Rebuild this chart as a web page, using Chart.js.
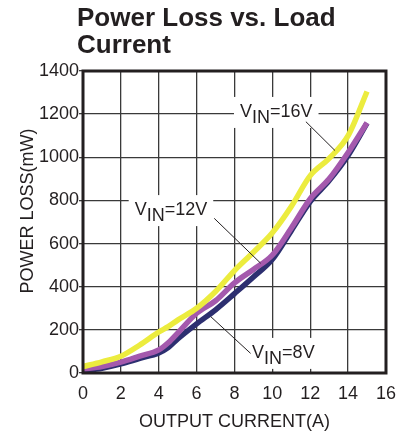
<!DOCTYPE html>
<html>
<head>
<meta charset="utf-8">
<script src="https://cdn.jsdelivr.net/npm/chart.js@4.4.0/dist/chart.umd.min.js"></script>
<style>
  html, body { margin: 0; padding: 0; background: #fff; }
  #wrap { width: 406px; height: 433px; }
</style>
</head>
<body>
<div id="wrap"><canvas id="lossChart" width="406" height="433"></canvas></div>
<script>
// output current (A) and power loss (mW) for each input voltage
const currents = [0, 1, 2, 3, 4, 4.5, 5, 6, 7, 8, 9, 10, 11, 12, 13, 14, 15];
const loss16V = [30, 52, 78, 130, 190, 215, 245, 300, 378, 475, 560, 650, 772, 915, 995, 1100, 1305];
const loss12V = [18, 30, 50, 78, 107, 140, 185, 277, 335, 418, 480, 547, 672, 808, 900, 1022, 1160];
const loss8V = [10, 22, 42, 68, 93, 118, 158, 228, 293, 368, 445, 527, 660, 795, 892, 1008, 1158];
const xTicks = [0, 2, 4, 6, 8, 10, 12, 14, 16];
const yTicks = [0, 200, 400, 600, 800, 1000, 1200, 1400];

// curve callouts: text anchor and leader line, in data units
const curveLabels = [
  { volts: '16V', at: [8.29, 1187], from: [11.77, 1165], to: [13.31, 1031] },
  { volts: '12V', at: [2.73, 732], from: [6.93, 717], to: [9.38, 509] },
  { volts: '8V', at: [8.93, 70], from: [6.75, 261], to: [8.85, 91] }
];

const FONT = '"Liberation Sans", Arial, Helvetica, sans-serif';
const INK = '#231f20';

const series = (vals) => currents.map((c, i) => ({ x: c, y: vals[i] }));

const decorations = {
  id: 'decorations',
  beforeDatasetsDraw(chart) {
    const { ctx, scales: { x, y } } = chart;
    ctx.save();
    ctx.font = '18px ' + FONT;
    ctx.textBaseline = 'alphabetic';
    curveLabels.forEach(lb => {
      const px = x.getPixelForValue(lb.at[0]);
      const py = y.getPixelForValue(lb.at[1]);
      const wV = ctx.measureText('V').width;
      const wIn = ctx.measureText('IN').width;
      const wRest = ctx.measureText('=' + lb.volts).width;
      ctx.fillStyle = '#fff';
      ctx.fillRect(px - 6, py - 20, wV + wIn + wRest + 12, 31);
      ctx.fillStyle = INK;
      ctx.fillText('V', px, py);
      ctx.fillText('IN', px + wV, py + 6);
      ctx.fillText('=' + lb.volts, px + wV + wIn, py);
    });
    ctx.restore();
  },
  afterDatasetsDraw(chart) {
    const { ctx, chartArea: a, scales: { x, y } } = chart;
    ctx.save();
    ctx.strokeStyle = INK;
    ctx.lineWidth = 1;
    curveLabels.forEach(lb => {
      ctx.beginPath();
      ctx.moveTo(x.getPixelForValue(lb.from[0]), y.getPixelForValue(lb.from[1]));
      ctx.lineTo(x.getPixelForValue(lb.to[0]), y.getPixelForValue(lb.to[1]));
      ctx.stroke();
    });
    // heavy plot frame
    ctx.lineWidth = 3;
    ctx.strokeRect(a.left, a.top, a.right - a.left, a.bottom - a.top);
    ctx.restore();
  },
  afterDraw(chart) {
    const { ctx } = chart;
    ctx.save();
    ctx.fillStyle = INK;
    ctx.font = 'bold 26px ' + FONT;
    ctx.textAlign = 'left';
    ctx.fillText('Power Loss vs. Load', 77, 26);
    ctx.fillText('Current', 77, 53);
    ctx.font = '18px ' + FONT;
    ctx.textAlign = 'center';
    ctx.textBaseline = 'middle';
    ctx.translate(28, 211);
    ctx.rotate(-Math.PI / 2);
    ctx.fillText('POWER LOSS(mW)', 0, 0);
    ctx.restore();
  }
};

new Chart(document.getElementById('lossChart'), {
  type: 'line',
  data: {
    datasets: [
      { label: 'VIN=16V', data: series(loss16V), borderColor: '#ecec3e', borderWidth: 5.5, order: 1 },
      { label: 'VIN=12V', data: series(loss12V), borderColor: '#a459ad', borderWidth: 5.5, order: 2 },
      { label: 'VIN=8V', data: series(loss8V), borderColor: '#2d2f70', borderWidth: 5.5, order: 3 }
    ]
  },
  options: {
    responsive: false,
    animation: false,
    devicePixelRatio: 1,
    layout: { padding: { top: 71, right: 18, left: 0, bottom: 0 } },
    elements: {
      point: { radius: 0 },
      line: { cubicInterpolationMode: 'monotone', borderCapStyle: 'butt', borderJoinStyle: 'round' }
    },
    plugins: { legend: { display: false }, tooltip: { enabled: false } },
    scales: {
      x: {
        type: 'linear',
        min: 0,
        max: 16,
        afterFit: (s) => { s.height = 60; },
        afterBuildTicks: (s) => { s.ticks = xTicks.map(v => ({ value: v })); },
        grid: { color: '#3a3a3a', lineWidth: 1.3, drawTicks: false },
        border: { display: false },
        ticks: { color: INK, font: { family: FONT, size: 18 }, padding: 10, maxRotation: 0, callback: (v) => String(v) },
        title: {
          display: true,
          text: 'OUTPUT CURRENT(A)',
          color: INK,
          font: { family: FONT, size: 18 },
          padding: { top: 4, bottom: 0 }
        }
      },
      y: {
        min: 0,
        max: 1400,
        afterFit: (s) => { s.width = 83; },
        afterBuildTicks: (s) => { s.ticks = yTicks.map(v => ({ value: v })); },
        grid: { color: '#3a3a3a', lineWidth: 1.3, tickLength: 4 },
        border: { display: false },
        ticks: { color: INK, font: { family: FONT, size: 18 }, padding: 0, callback: (v) => String(v) }
      }
    }
  },
  plugins: [decorations]
});
</script>
</body>
</html>
